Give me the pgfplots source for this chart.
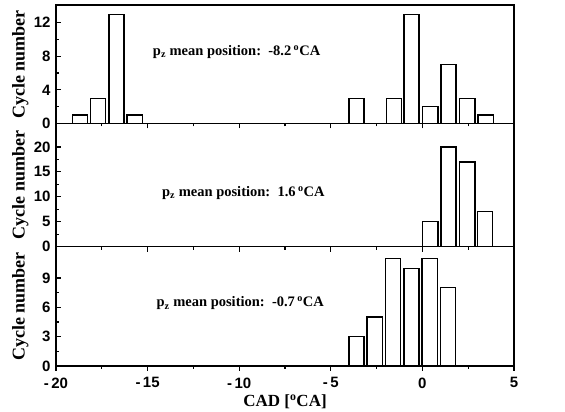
\documentclass[border=0pt]{standalone}
\usepackage{fontspec}
\setmainfont{Liberation Serif}
\newfontfamily\sansticks{Liberation Sans}
\usepackage{pgfplots}
\pgfplotsset{compat=1.18}

\pgfplotstableread{
x y
-18.7 1
-17.7 3
-16.7 13
-15.7 1
-3.6 3
-1.55 3
-0.6 13
0.43 2
1.42 7
2.45 3
3.45 1
}\toptab
\pgfplotstableread{
x y
0.43 5
1.42 20
2.45 17
3.42 7
}\midtab
\pgfplotstableread{
x y
-3.6 3
-2.6 5
-1.6 11
-0.6 10
0.4 11
1.4 8
}\bottab

\tikzset{ann/.style={anchor=west, font=\bfseries\fontsize{14.5}{15}\selectfont}}

\begin{document}
\begin{tikzpicture}
\path[use as bounding box] (0pt,0pt) rectangle (565pt,412pt);
\pgfplotsset{
  panel/.style={
    scale only axis, width=458pt, anchor=south west,
    xmin=-20, xmax=5,
    xtick={-20,-15,...,5}, minor x tick num=1,
    tick align=inside, xtick pos=left, ytick pos=left,
    axis line style={line width=1.6pt},
    major tick length=5pt, minor tick length=3pt,
    every tick/.style={black, line width=1.2pt},
    ymin=0, minor y tick num=1,
    ylabel={\bfseries Cycle number},
    ylabel style={at={(axis description cs:-0.078,0.5)}, anchor=center, font=\fontsize{18}{18}\selectfont},
    yticklabel style={font=\sansticks\bfseries\fontsize{15}{15}\selectfont, xshift=-2pt},
    xticklabel style={font=\sansticks\bfseries\fontsize{15}{15}\selectfont, yshift=-3pt},
    ybar, bar width=0.83,
  },
  barsty/.style={bar shift=0pt, draw=black, fill=white, line width=1.4pt},
}
\begin{axis}[panel, at={(56pt,288.5pt)}, height=118.5pt, ymax=14.1,
  ytick={0,4,8,12}, yticklabels={0,4,8,12}, xticklabels={}]
\addplot[barsty] table[x=x,y=y] {\toptab};
\node[ann] at (axis cs:-14.9,8.5) {p\textsubscript{z} mean position:\ \ -8.2\,\textsuperscript{o}CA};
\end{axis}
\begin{axis}[panel, at={(56pt,165.3pt)}, height=123.2pt, ymax=24.7,
  ytick={0,5,10,15,20}, yticklabels={0,5,10,15,20}, xticklabels={}]
\addplot[barsty] table[x=x,y=y] {\midtab};
\node[ann] at (axis cs:-14.4,10.8) {p\textsubscript{z} mean position:\ \ 1.6\,\textsuperscript{o}CA};
\end{axis}
\begin{axis}[panel, at={(56pt,46pt)}, height=119.3pt, ymax=12.2,
  ytick={0,3,6,9}, yticklabels={0,3,6,9},
  xticklabels={-\,20,-\,15,-\,10,-\,5,0,5},
  xlabel={\bfseries CAD [\textsuperscript{o}CA]},
  xlabel style={at={(axis description cs:0.5,0)}, anchor=center, yshift=-36pt, font=\fontsize{17}{17}\selectfont}]
\addplot[barsty] table[x=x,y=y] {\bottab};
\node[ann] at (axis cs:-14.7,6.4) {p\textsubscript{z} mean position:\ \ -0.7\,\textsuperscript{o}CA};
\end{axis}
\end{tikzpicture}
\end{document}
